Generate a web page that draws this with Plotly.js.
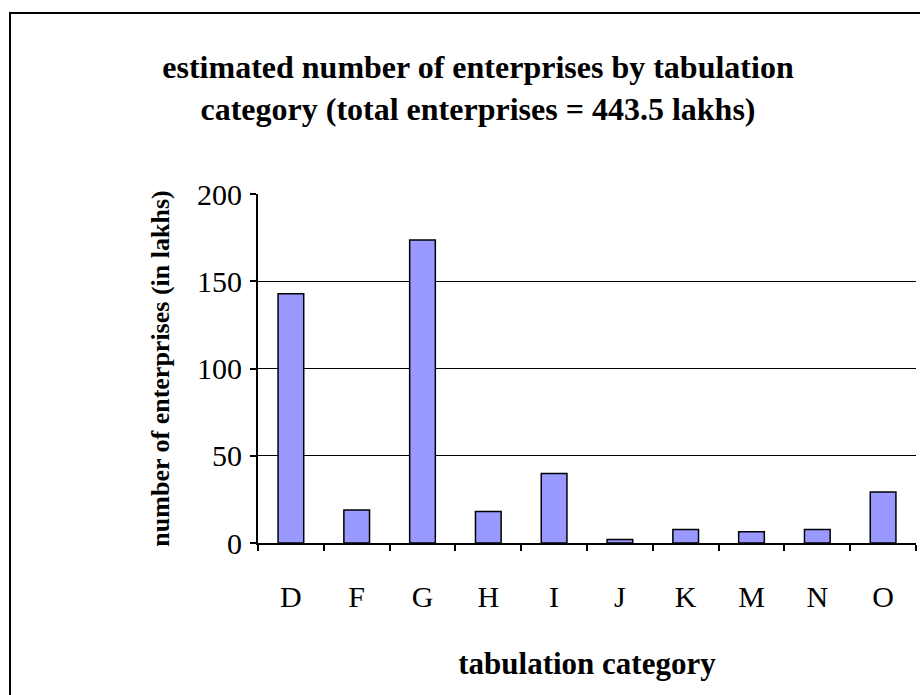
<!DOCTYPE html>
<html>
<head>
<meta charset="utf-8">
<script src="https://cdn.plot.ly/plotly-3.0.1.min.js"></script>
<style>
  html, body { margin: 0; padding: 0; background: #ffffff; }
  #chart { width: 920px; height: 695px; }
</style>
</head>
<body>
<div id="chart"></div>
<script>
// Data (values in lakhs)
var categories = ["D", "F", "G", "H", "I", "J", "K", "M", "N", "O"];
var enterprises = [142.8, 18.9, 173.7, 18.0, 39.8, 2.0, 7.7, 6.5, 7.7, 29.2];
var yTicks = [0, 50, 100, 150, 200];

var chartTitle = "estimated number of enterprises by tabulation<br>category (total enterprises = 443.5 lakhs)";
var xTitle = "tabulation category";
var yTitle = "number of enterprises (in lakhs)";

var serif = "Liberation Serif, Times New Roman, Times, serif";

var W = 920, H = 695;
var plotL = 258, plotR = 916, plotT = 194, plotB = 543;
var pw = plotR - plotL, ph = plotB - plotT;
function px2x(p) { return (p - plotL) / pw; }
function px2y(p) { return (plotB - p) / ph; }

var trace = {
  type: "bar",
  x: categories,
  y: enterprises,
  marker: { color: "#9999FF", line: { color: "#000000", width: 1.5 } },
  hoverinfo: "x+y"
};

var layout = {
  width: W,
  height: H,
  margin: { l: plotL, r: W - plotR, t: plotT, b: H - plotB, pad: 0 },
  paper_bgcolor: "#ffffff",
  plot_bgcolor: "#ffffff",
  showlegend: false,
  bargap: 0.61,
  font: { family: serif, color: "#000000" },
  title: {
    text: chartTitle,
    font: { family: serif, size: 32, color: "#000000", weight: "bold" },
    xref: "container", yref: "container",
    x: 478 / W, xanchor: "center",
    y: 1 - 78 / H, yanchor: "middle"
  },
  xaxis: {
    type: "category",
    tickson: "boundaries",
    ticks: "outside",
    ticklen: 6,
    tickwidth: 2,
    tickcolor: "#000000",
    showline: true,
    linecolor: "#000000",
    linewidth: 2,
    showgrid: false,
    zeroline: false,
    tickfont: { family: serif, size: 30, color: "#000000" },
    ticklabelstandoff: 26,
    title: {
      text: xTitle,
      font: { family: serif, size: 31, color: "#000000", weight: "bold" },
      standoff: 40
    },
    fixedrange: true
  },
  yaxis: {
    range: [0, 200],
    tickvals: yTicks,
    ticktext: yTicks.map(String),
    ticks: "outside",
    ticklen: 6,
    tickwidth: 2,
    tickcolor: "#000000",
    showline: true,
    linecolor: "#000000",
    linewidth: 2,
    showgrid: true,
    gridcolor: "#000000",
    gridwidth: 1,
    zeroline: false,
    tickfont: { family: serif, size: 30, color: "#000000" },
    ticklabelstandoff: 2,
    title: {
      text: yTitle,
      font: { family: serif, size: 26, color: "#000000", weight: "bold" },
      standoff: 20
    },
    fixedrange: true
  },
  shapes: [
    {
      type: "rect", xref: "paper", yref: "paper",
      x0: px2x(10), x1: px2x(960), y0: px2y(740), y1: px2y(13),
      line: { color: "#000000", width: 2 },
      fillcolor: "rgba(0,0,0,0)",
      layer: "above"
    }
  ]
};

Plotly.newPlot("chart", [trace], layout, { displayModeBar: false, staticPlot: true });
</script>
</body>
</html>
